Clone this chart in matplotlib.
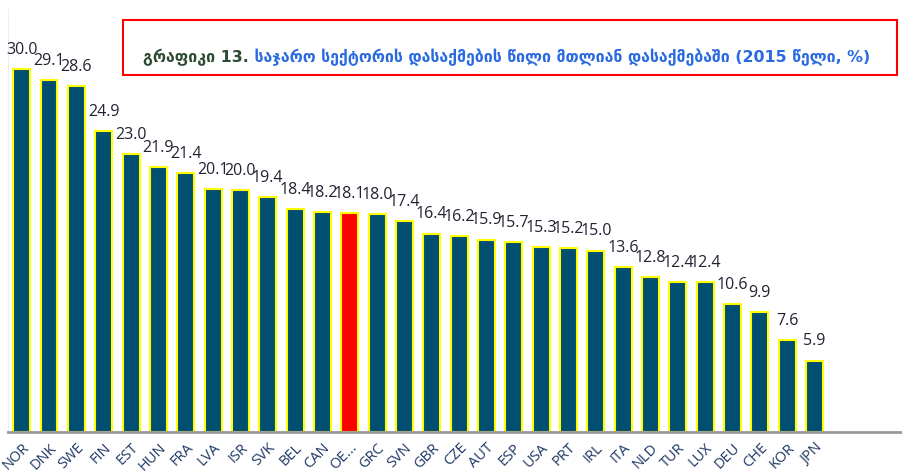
import numpy as np
import matplotlib
matplotlib.use('Agg')
import matplotlib.pyplot as plt
from matplotlib.patches import Rectangle

# data
countries = ['NOR', 'DNK', 'SWE', 'FIN', 'EST', 'HUN', 'FRA', 'LVA', 'ISR', 'SVK',
             'BEL', 'CAN', 'OE...', 'GRC', 'SVN', 'GBR', 'CZE', 'AUT', 'ESP', 'USA',
             'PRT', 'IRL', 'ITA', 'NLD', 'TUR', 'LUX', 'DEU', 'CHE', 'KOR', 'JPN']
shares = [30.0, 29.1, 28.6, 24.9, 23.0, 21.9, 21.4, 20.1, 20.0, 19.4,
          18.4, 18.2, 18.1, 18.0, 17.4, 16.4, 16.2, 15.9, 15.7, 15.3,
          15.2, 15.0, 13.6, 12.8, 12.4, 12.4, 10.6, 9.9, 7.6, 5.9]
highlight = 'OE...'

title_head = 'გრაფიკი 13.'
title_body = 'საჯარო სექტორის დასაქმების წილი მთლიან დასაქმებაში (2015 წელი, %)'

fig = plt.figure(figsize=(9.02, 4.76), dpi=100)
ax = fig.add_axes([8/902, 1-432/476, 1-8/902, 423.5/476])

x = np.arange(len(countries))
colors = ['#FF0000' if c == highlight else '#004E70' for c in countries]
ax.bar(x, shares, width=0.62, color=colors, edgecolor='#FFFF00', linewidth=1.5, zorder=2)

for xi, v in zip(x, shares):
    ax.annotate('%.1f' % v, (xi, v), xytext=(0, 8), textcoords='offset points',
                ha='center', va='bottom', fontsize=11.5, color='#222233',
                family='Open Sans')

ax.set_xlim(-0.5, 32.2)
ax.set_ylim(0, 35)
ax.set_xticks(x)
ax.set_xticklabels(countries, rotation=45, ha='right', rotation_mode='anchor',
                   fontsize=10.5, color='#1F3864', family='Open Sans')
ax.tick_params(axis='x', length=0, pad=6)
ax.set_yticks([])
for s in ['top', 'right']:
    ax.spines[s].set_visible(False)
ax.spines['left'].set_color('#EEEEEE')
ax.spines['left'].set_linewidth(0.8)
ax.spines['bottom'].set_color('#999999')
ax.spines['bottom'].set_linewidth(2)

# title box
fig.patches.append(Rectangle((123/902, 1-75/476), (897-123)/902, 55/476,
                             transform=fig.transFigure, fill=False,
                             edgecolor='#FF0000', linewidth=1.5))
t1 = fig.text(143/902, 1-57/476, title_head, fontsize=11.4, fontweight='bold',
              color='#2D4A32', va='center', family='DejaVu Sans')
ax.annotate(' ' + title_body, xy=(1, 0.5), xycoords=t1, va='center', ha='left',
            fontsize=11.4, fontweight='bold', color='#2A6AE0', family='DejaVu Sans',
            annotation_clip=False)

plt.savefig('out.png', dpi=100)
